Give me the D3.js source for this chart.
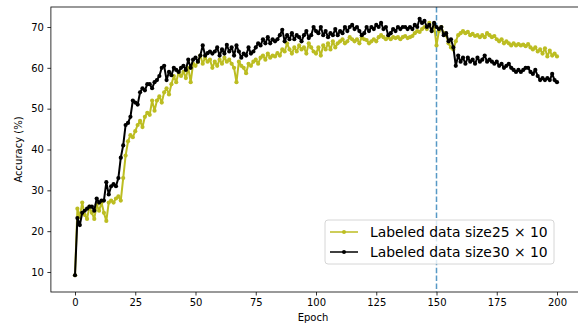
<!DOCTYPE html>
<html>
<head>
<meta charset="utf-8">
<script src="https://cdn.jsdelivr.net/npm/d3@7"></script>
<style>
  body { margin: 0; background: #fff; }
  svg { display: block; font-family: "DejaVu Sans", sans-serif; }
</style>
</head>
<body>
<svg width="578" height="326"></svg>
<script>
// accuracy per epoch (0..200)
const accSize25 = [
  9.2, 25.5, 23.5, 27, 24, 23, 26, 24.5, 23, 26.5,
  25, 27, 24.5, 22.5, 27, 27.5, 27, 28, 28.5, 27.5,
  33, 38.5, 42, 43.5, 43, 44.5, 46, 47, 45.5, 48,
  49, 48.5, 52, 49.5, 52, 53, 51.5, 54, 55, 53.5,
  56, 58, 56.5, 59, 58, 59, 57.5, 60, 56.5, 61,
  60.5, 61.5, 63, 61, 62.5, 61.5, 62, 60, 61.5, 60.5,
  62, 61, 62.5, 61.5, 62, 61, 60, 56.5, 61.5, 60.5,
  60, 58.7, 61, 60.5, 61.5, 62, 61, 62.5, 63, 62,
  63.5, 62.5, 63, 62.8, 63.6, 63, 64.5, 64, 66, 64.5,
  63.5, 65, 64, 65.5, 64.5, 65, 63.5, 66, 65, 64,
  63.5, 65, 63, 65.5, 64.5, 66, 64.5, 66.5, 65, 66,
  66.5, 67, 66, 66.5, 67.5, 67, 66.5, 67, 66, 67.5,
  67, 66.8, 66, 66.5, 67, 66.5, 67.5, 68, 67.5, 67,
  67.5, 67, 67.5, 67.3, 67.5, 67, 67.5, 67.8, 67.3, 67.5,
  67.8, 68.5, 69, 68.8, 69.5, 70, 69.5, 71, 69, 70.5,
  65.5, 69, 70, 68.5, 68, 66, 65, 64.5, 66.5, 68,
  68.5, 69, 68.5, 68.8, 68, 68.3, 67.8, 68, 67.5, 68,
  67.5, 68.5, 68, 67.5, 67.8, 67, 66.5, 67, 66, 66.5,
  66, 65.5, 66, 65.5, 65.8, 65.5, 65.7, 65.3, 65.8, 65,
  64.5, 65, 64, 64.5, 63.5, 64.8, 62.8, 64.2, 63, 63.5,
  62.8
];
const accSize30 = [
  9.2, 23.2, 21.5, 24.5, 25, 25.5, 26, 26, 25, 28,
  27, 27.5, 27.5, 32, 29, 31, 31.5, 31, 33, 38,
  41, 46, 46.5, 48, 52, 51.5, 51, 54, 55, 54.5,
  56, 56, 55, 56.5, 57, 58, 60, 60.5, 57, 59,
  58.2, 60, 59.5, 59, 60, 60.5, 59.5, 62, 60, 62,
  62.5, 61.5, 63, 65.5, 63, 63.6, 64, 63.5, 64, 65,
  63, 64.5, 63.5, 65.6, 64, 65, 63, 65.5, 64, 62.5,
  63.5, 63, 65, 63.5, 64, 65, 66, 65.5, 67, 66,
  67.5, 66, 67, 66.5, 67, 68, 69.3, 66.5, 68, 67,
  68.5, 67, 68, 67.5, 66.5, 68, 69, 67.3, 68, 70,
  69, 68.5, 70, 68, 69, 67.5, 68.5, 68, 69.5, 68,
  69, 68.5, 70, 69, 70, 70.5, 69.5, 70, 69, 68,
  68.5, 70, 69, 70, 69.5, 70.5, 70, 71, 69.5, 70,
  68, 68.5, 69.5, 69, 70, 69.5, 70, 70, 69.5, 70,
  69.5, 70.5, 70, 72, 71, 71.5, 70, 70.5, 69, 71,
  70, 69.5, 70, 68, 68.5, 66.5, 67, 65, 60.5, 63,
  61.5, 62.5, 61, 62.5, 61.5, 62, 61, 62.5, 61.5, 62,
  63, 61.5, 62, 61.5, 61, 61.5, 60.5, 61, 60, 60.5,
  61, 60, 59.5, 59, 59.5, 59, 59.5, 60, 60, 59,
  58.5, 59.5, 58, 57, 57.5, 57, 57.5, 57, 58.5, 57,
  56.5
];
const seriesNames = ["Labeled data size25 \u00d7 10", "Labeled data size30 \u00d7 10"];
const seriesColors = ["#bcbd22", "#000000"];
const xTicks = [0, 25, 50, 75, 100, 125, 150, 175, 200];
const yTicks = [10, 20, 30, 40, 50, 60, 70];
const splitEpoch = 150;

const svg = d3.select("svg");

const x = d3.scaleLinear().domain([-10, 210]).range([50.9, 581.1]);
const y = d3.scaleLinear().domain([5.1, 74.9]).range([292, 7]);

const series = [accSize25, accSize30].map((vals, i) => ({
  name: seriesNames[i],
  color: seriesColors[i],
  points: vals.map((v, e) => [e, v])
}));

// dashed split marker
svg.append("line")
  .attr("x1", x(splitEpoch)).attr("x2", x(splitEpoch))
  .attr("y1", y(74.9)).attr("y2", y(5.1))
  .attr("stroke", "#1f77b4")
  .attr("stroke-width", 1.5)
  .attr("stroke-dasharray", "5.5,2.4")
  .attr("opacity", 0.75);

const line = d3.line().x(d => x(d[0])).y(d => y(d[1]));

series.forEach(s => {
  const g = svg.append("g");
  g.append("path")
    .attr("d", line(s.points))
    .attr("fill", "none")
    .attr("stroke", s.color)
    .attr("stroke-width", 2)
    .attr("stroke-linejoin", "round");
  g.selectAll("circle")
    .data(s.points)
    .enter()
    .append("circle")
    .attr("cx", d => x(d[0]))
    .attr("cy", d => y(d[1]))
    .attr("r", 2.1)
    .attr("fill", s.color);
});

// axes
const xAxis = d3.axisBottom(x).tickValues(xTicks).tickSize(3.5).tickPadding(3.5);
const yAxis = d3.axisLeft(y).tickValues(yTicks).tickSize(3.5).tickPadding(3.5);

const xg = svg.append("g").attr("transform", `translate(0,${y(5.1)})`).call(xAxis);
const yg = svg.append("g").attr("transform", `translate(${x(-10)},0)`).call(yAxis);
[xg, yg].forEach(g => {
  g.select(".domain").remove();
  g.selectAll("text").attr("font-size", 10).attr("fill", "#000")
    .attr("font-family", "DejaVu Sans, sans-serif");
  g.selectAll(".tick line").attr("stroke", "#000").attr("stroke-width", 0.8);
});

// spines
svg.append("rect")
  .attr("x", x(-10)).attr("y", y(74.9))
  .attr("width", x(210) - x(-10)).attr("height", y(5.1) - y(74.9))
  .attr("fill", "none").attr("stroke", "#000").attr("stroke-width", 0.8);

svg.append("text")
  .attr("x", (x(-10) + x(210)) / 2 - 3).attr("y", 321)
  .attr("text-anchor", "middle").attr("font-size", 10)
  .text("Epoch");

svg.append("text")
  .attr("transform", `translate(22,${(y(5.1) + y(74.9)) / 2}) rotate(-90)`)
  .attr("text-anchor", "middle").attr("font-size", 10)
  .text("Accuracy (%)");

// legend
const leg = svg.append("g").attr("transform", "translate(325,220)");
leg.append("rect")
  .attr("x", 0).attr("y", 0).attr("width", 229).attr("height", 44)
  .attr("rx", 3).attr("fill", "#fff").attr("fill-opacity", 0.8)
  .attr("stroke", "#ccc").attr("stroke-width", 0.8);
series.forEach((s, i) => {
  const ly = 12 + i * 20;
  leg.append("line")
    .attr("x1", 5).attr("x2", 33).attr("y1", ly).attr("y2", ly)
    .attr("stroke", s.color).attr("stroke-width", 1.5);
  leg.append("circle").attr("cx", 19).attr("cy", ly).attr("r", 2).attr("fill", s.color);
  leg.append("text")
    .attr("x", 45).attr("y", ly + 5)
    .attr("font-size", 13.9)
    .text(s.name);
});
</script>
</body>
</html>
